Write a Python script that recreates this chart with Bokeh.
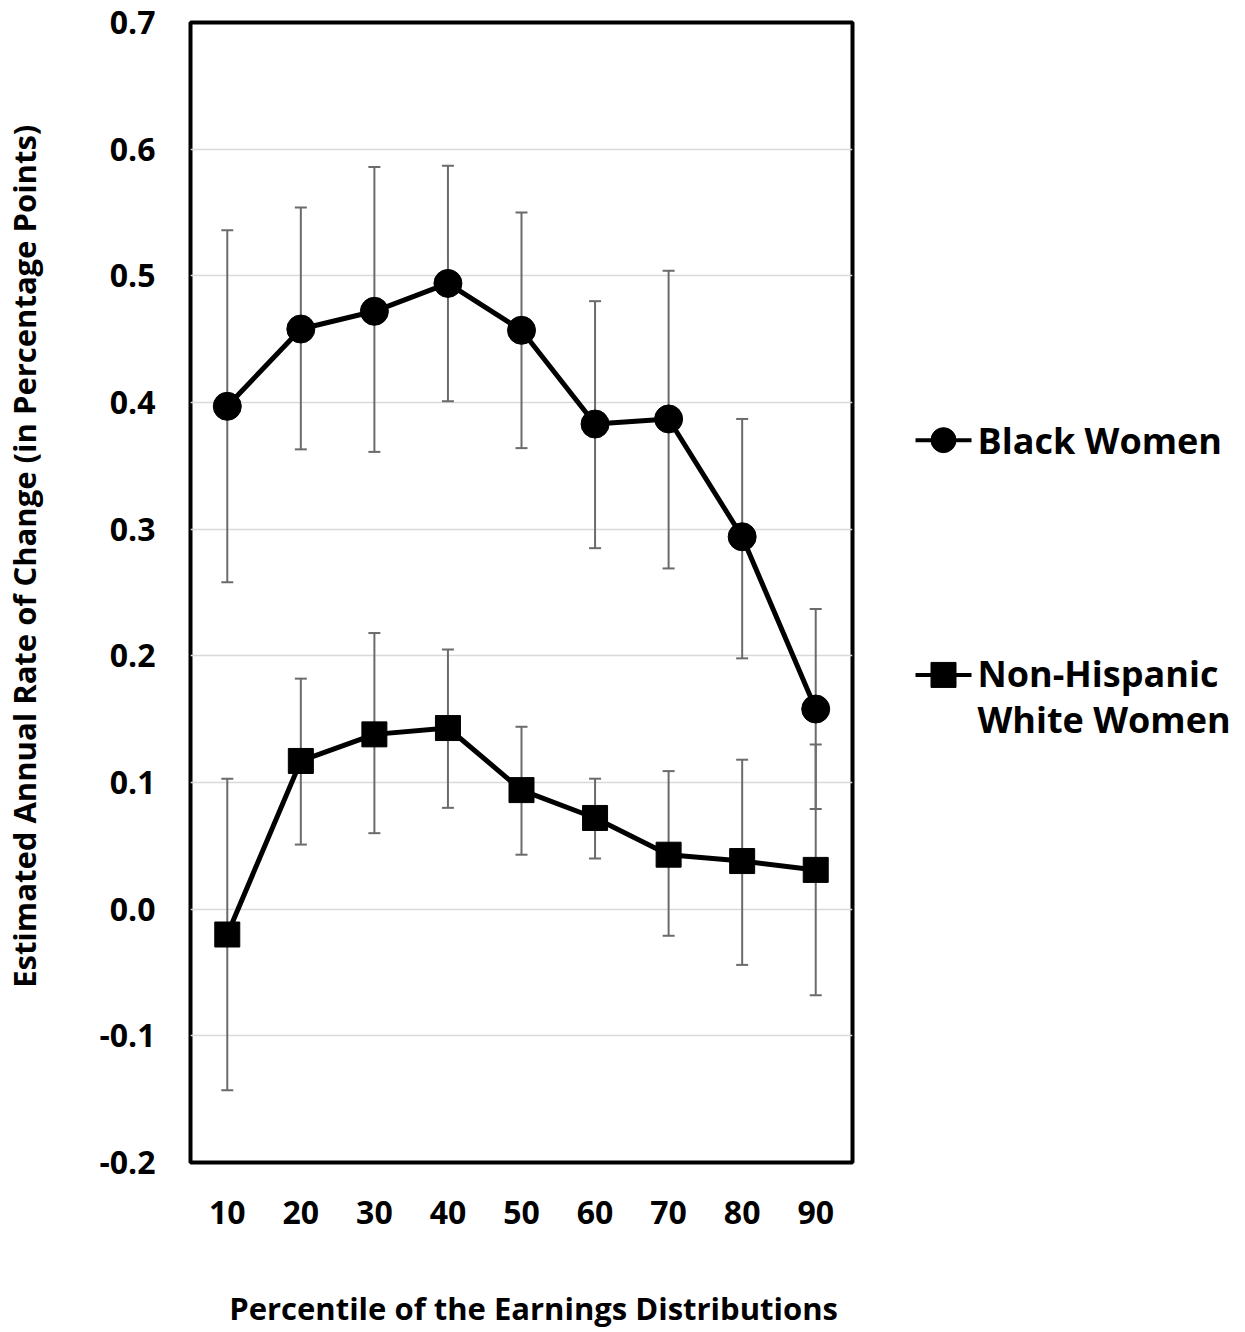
from bokeh.plotting import figure
from bokeh.models import Range1d, FixedTicker, NumeralTickFormatter, Whisker, ColumnDataSource, TeeHead
from bokeh.layouts import row
from bokeh.core.properties import value
from bokeh.embed import file_html
from bokeh.resources import INLINE

# ---- data ----
percentiles = [10, 20, 30, 40, 50, 60, 70, 80, 90]
black = [0.397, 0.458, 0.472, 0.494, 0.457, 0.383, 0.387, 0.294, 0.158]
black_upper = [0.536, 0.554, 0.586, 0.587, 0.550, 0.480, 0.504, 0.387, 0.237]
black_lower = [0.258, 0.363, 0.361, 0.401, 0.364, 0.285, 0.269, 0.198, 0.079]
white = [-0.020, 0.117, 0.138, 0.143, 0.094, 0.072, 0.043, 0.038, 0.031]
white_upper = [0.103, 0.182, 0.218, 0.205, 0.144, 0.103, 0.109, 0.118, 0.130]
white_lower = [-0.143, 0.051, 0.060, 0.080, 0.043, 0.040, -0.021, -0.044, -0.068]
y_ticks = [-0.2, -0.1, 0.0, 0.1, 0.2, 0.3, 0.4, 0.5, 0.6, 0.7]
series_names = ["Black Women", "Non-Hispanic White Women"]
x_title = "Percentile of the Earnings Distributions"
y_title = "Estimated Annual Rate of Change (in Percentage Points)"

FONT = "Open Sans"
H = 1331
W1 = 860
W2 = 384
FRAME_TOP = 22
FRAME_BOTTOM = 1163
NBSP = "\u00a0"

p = figure(width=W1, height=H, x_range=Range1d(5, 95), y_range=Range1d(-0.2, 0.7),
           output_backend="svg", toolbar_location=None,
           min_border_left=190, min_border_right=W1 - 852, min_border_top=FRAME_TOP,
           min_border_bottom=H - FRAME_BOTTOM)
p.outline_line_color = "black"
p.outline_line_width = 4
p.background_fill_color = "white"
p.border_fill_color = "white"

p.xgrid.grid_line_color = None
p.ygrid.grid_line_color = "#d9d9d9"
p.ygrid.grid_line_width = 1.5
p.ygrid.ticker = FixedTicker(ticks=y_ticks)

for ax in (p.xaxis[0], p.yaxis[0]):
    ax.axis_line_color = None
    ax.major_tick_line_color = None
    ax.minor_tick_line_color = None
    ax.major_label_text_font = FONT
    ax.major_label_text_font_style = "bold"
    ax.major_label_text_font_size = "32px"
    ax.major_label_text_color = "black"
    ax.axis_label_text_font = FONT
    ax.axis_label_text_font_style = "bold"
    ax.axis_label_text_font_size = "31px"
    ax.axis_label_text_color = "black"

p.xaxis.ticker = FixedTicker(ticks=percentiles)
p.xaxis.major_label_standoff = 32
p.xaxis.axis_label = NBSP * 3 + x_title
p.xaxis.axis_label_standoff = 60

p.yaxis.ticker = FixedTicker(ticks=y_ticks)
p.yaxis.formatter = NumeralTickFormatter(format="0.0")
p.yaxis.major_label_standoff = 29
p.yaxis.axis_label = NBSP * 9 + y_title
p.yaxis.axis_label_standoff = 51

src_b = ColumnDataSource(dict(x=percentiles, y=black, up=black_upper, lo=black_lower))
src_w = ColumnDataSource(dict(x=percentiles, y=white, up=white_upper, lo=white_lower))

for src in (src_b, src_w):
    wk = Whisker(source=src, base="x", upper="up", lower="lo", dimension="height",
                 line_color="#6b6b6b", line_width=2, level="underlay",
                 upper_head=TeeHead(size=12, line_color="#6b6b6b", line_width=2),
                 lower_head=TeeHead(size=12, line_color="#6b6b6b", line_width=2))
    p.add_layout(wk)

p.line("x", "y", source=src_b, line_color="black", line_width=5)
p.scatter("x", "y", source=src_b, marker="circle", size=28, fill_color="black", line_color="black")
p.line("x", "y", source=src_w, line_color="black", line_width=5)
p.scatter("x", "y", source=src_w, marker="square", size=25, fill_color="black", line_color="black")

# ---- legend panel (coordinates in page pixels) ----
lg = figure(width=W2, height=H, x_range=Range1d(W1, W1 + W2), y_range=Range1d(FRAME_BOTTOM, FRAME_TOP),
            output_backend="svg", toolbar_location=None,
            min_border_left=0, min_border_right=0, min_border_top=0, min_border_bottom=0)
lg.axis.visible = False
lg.grid.visible = False
lg.outline_line_color = None
lg.border_fill_color = "white"
lg.background_fill_color = "white"

leg_y = [440, 675]
leg_markers = ["circle", "square"]
for yy, mk in zip(leg_y, leg_markers):
    lg.segment(x0=[915], y0=[yy], x1=[971], y1=[yy], line_color="black", line_width=4)
    lg.scatter(x=[943], y=[yy], marker=mk, size=25, fill_color="black", line_color="black")

words = series_names[1].split(" ")
leg_lines = [series_names[0], words[0], " ".join(words[1:])]
leg_base = [440, 674, 720]
lg.text(x=[977, 977, 977], y=leg_base, text=leg_lines, text_font=value(FONT),
        text_font_style="bold", text_font_size="36px", text_color="black",
        text_baseline="alphabetic", text_align="left")

layout = row(p, lg)
open("out.html", "w").write(file_html(layout, INLINE))
